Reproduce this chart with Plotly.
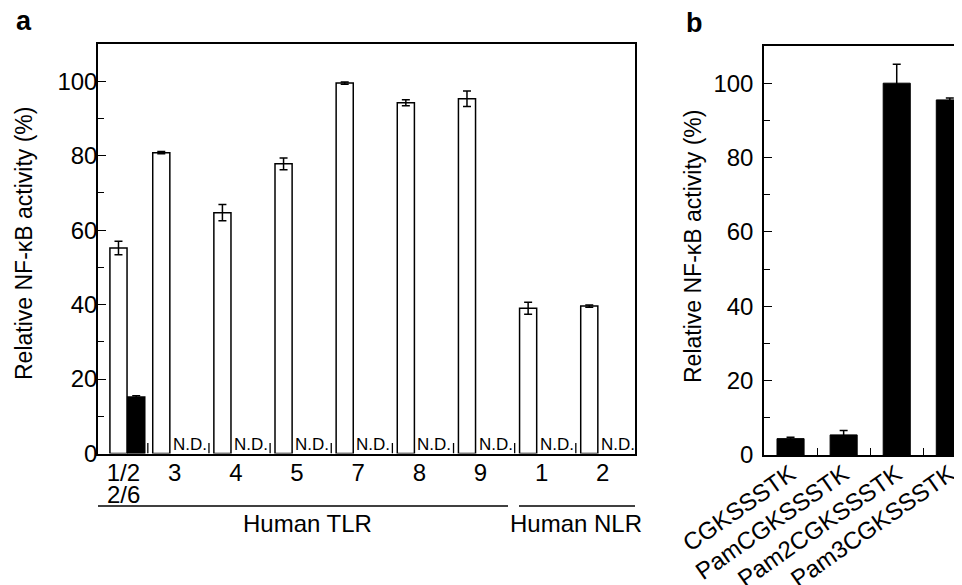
import plotly.graph_objects as go

# ---------------- data ----------------
tlr_labels = ["1/2\n2/6", "3", "4", "5", "7", "8", "9", "1", "2"]
tlr_family = ["Human TLR"] * 7 + ["Human NLR"] * 2
white_vals = [55.2, 80.8, 64.7, 77.8, 99.5, 94.2, 95.3, 39.0, 39.6]
white_err = [1.8, 0.3, 2.2, 1.6, 0.3, 0.8, 2.1, 1.6, 0.3]
black_vals = [15.2, None, None, None, None, None, None, None, None]
black_err = [0.3, None, None, None, None, None, None, None, None]

lipo_labels = ["CGKSSSTK", "PamCGKSSSTK", "Pam2CGKSSSTK", "Pam3CGKSSSTK"]
lipo_vals = [4.4, 5.4, 100.0, 95.5]
lipo_err = [0.4, 1.2, 5.1, 0.5]

y_title = "Relative NF-κB activity (%)"

# ---------------- layout helpers ----------------
W, H = 962, 585
OFF = 8  # page body margin
FONT = "Liberation Sans, Arial, sans-serif"
n = len(tlr_labels)
pos = [float(i) for i in range(n)]
pos[0] = 0.3  # first group is squeezed against the axis
bw = 0.28
dx_black = 0.29


def px_x(p):
    return (p - OFF) / W


def px_y(p):
    return 1 - (p - OFF) / H


fig = go.Figure()

# white bars
fig.add_trace(go.Bar(
    x=pos, y=white_vals, width=bw,
    marker=dict(color="white", line=dict(color="black", width=1.5)),
    error_y=dict(type="data", array=white_err, color="black", thickness=1.5, width=4),
    xaxis="x", yaxis="y", showlegend=False,
))
# black bars
bx = [p + dx_black for p, v in zip(pos, black_vals) if v is not None]
by = [v for v in black_vals if v is not None]
be = [e for e, v in zip(black_err, black_vals) if v is not None]
fig.add_trace(go.Bar(
    x=bx, y=by, width=bw,
    marker=dict(color="black", line=dict(color="black", width=1.5)),
    error_y=dict(type="data", array=be, color="black", thickness=1.5, width=4),
    xaxis="x", yaxis="y", showlegend=False,
))

# panel b bars
fig.add_trace(go.Bar(
    x=lipo_labels, y=lipo_vals, width=0.51,
    marker=dict(color="black", line=dict(color="black", width=1)),
    error_y=dict(type="data", array=lipo_err, color="black", thickness=1.5, width=4),
    xaxis="x2", yaxis="y2", showlegend=False,
))

shapes = []
annotations = []
tickvals = []
ticktext = []


def ann(x, y, text, size, angle=0, **kw):
    d = dict(x=px_x(x), y=px_y(y), xref="paper", yref="paper", text=text,
             textangle=angle, showarrow=False, xanchor="center", yanchor="middle",
             font=dict(family=FONT, size=size, color="black"))
    d.update(kw)
    annotations.append(d)


for i in range(n):
    p = pos[i]
    lines = tlr_labels[i].split("\n")
    ticktext.append(lines[0])
    if black_vals[i] is not None:
        tick_x = p + 0.48
        lab_x = p + 0.08
    else:
        tick_x = p + 0.78
        lab_x = p + 0.22
        annotations.append(dict(
            x=p + bw / 2, y=0, xref="x", yref="y", text="N.D.", showarrow=False,
            xanchor="left", yanchor="bottom", xshift=1, yshift=-2,
            font=dict(family=FONT, size=17, color="black")))
    tickvals.append(lab_x)
    if len(lines) > 1:
        annotations.append(dict(
            x=lab_x, y=px_y(494), xref="x", yref="paper", text=lines[1], showarrow=False,
            xanchor="center", yanchor="middle",
            font=dict(family=FONT, size=24, color="black")))
    if i < n - 1:
        shapes.append(dict(type="line", xref="x", yref="y", x0=tick_x, x1=tick_x,
                           y0=0, y1=2.8, line=dict(color="black", width=1.3)))

# group lines below panel a
line_y = px_y(506)
shapes.append(dict(type="line", xref="paper", yref="paper", x0=px_x(98), x1=px_x(508),
                   y0=line_y, y1=line_y, line=dict(color="black", width=1.3)))
shapes.append(dict(type="line", xref="paper", yref="paper", x0=px_x(519), x1=px_x(635),
                   y0=line_y, y1=line_y, line=dict(color="black", width=1.3)))
ann(307, 523, tlr_family[0], 24)
ann(576, 523, tlr_family[-1], 24)

# y titles
ann(24, 244, y_title, 23, angle=-90)
ann(693, 247, y_title, 23, angle=-90)
# panel letters
ann(24, 21, "<b>a</b>", 27)
ann(694, 23, "<b>b</b>", 27)

axis_font = dict(family=FONT, size=24, color="black")

fig.update_layout(
    width=W, height=H,
    margin=dict(l=0, r=0, t=0, b=0),
    paper_bgcolor="white", plot_bgcolor="white",
    barmode="overlay",
    font=dict(family=FONT, color="black"),
    shapes=shapes, annotations=annotations,
    xaxis=dict(
        domain=[px_x(98), px_x(635)], range=[-0.035, 8.748],
        showline=True, linecolor="black", linewidth=1.5, mirror=True,
        showgrid=False, zeroline=False, ticks="",
        tickvals=tickvals, ticktext=ticktext, tickfont=axis_font,
        ticklabelstandoff=-3,
        anchor="y", automargin=False,
    ),
    yaxis=dict(
        domain=[px_y(453.5), px_y(44)], range=[0, 110],
        showline=True, linecolor="black", linewidth=1.5, mirror=True,
        showgrid=False, zeroline=False,
        ticks="inside", ticklen=8, tickwidth=1.3, tickcolor="black",
        tickvals=[0, 20, 40, 60, 80, 100], tickfont=axis_font,
        ticklabelstandoff=-6,
        minor=dict(ticks="inside", ticklen=6, tickwidth=1.3, tickcolor="black",
                   tickvals=[10, 30, 50, 70, 90]),
        anchor="x", automargin=False,
    ),
    xaxis2=dict(
        domain=[px_x(764), 1.0], range=[-0.5, 3.38],
        type="category", categoryorder="array", categoryarray=lipo_labels,
        showline=True, linecolor="black", linewidth=1.5, mirror=True,
        showgrid=False, zeroline=False,
        ticks="inside", tickson="boundaries", ticklen=7, tickwidth=1.3, tickcolor="black",
        tickangle=-35, tickfont=axis_font, ticklabelstandoff=-6,
        anchor="y2", automargin=False,
    ),
    yaxis2=dict(
        domain=[px_y(455), px_y(46)], range=[0, 110],
        showline=True, linecolor="black", linewidth=1.5, mirror=False,
        showgrid=False, zeroline=False,
        ticks="inside", ticklen=8, tickwidth=1.3, tickcolor="black",
        tickvals=[0, 20, 40, 60, 80, 100], tickfont=axis_font,
        ticklabelstandoff=4,
        minor=dict(ticks="inside", ticklen=6, tickwidth=1.3, tickcolor="black",
                   tickvals=[10, 30, 50, 70, 90]),
        anchor="x2", automargin=False,
    ),
)

fig.write_html("out.html")
